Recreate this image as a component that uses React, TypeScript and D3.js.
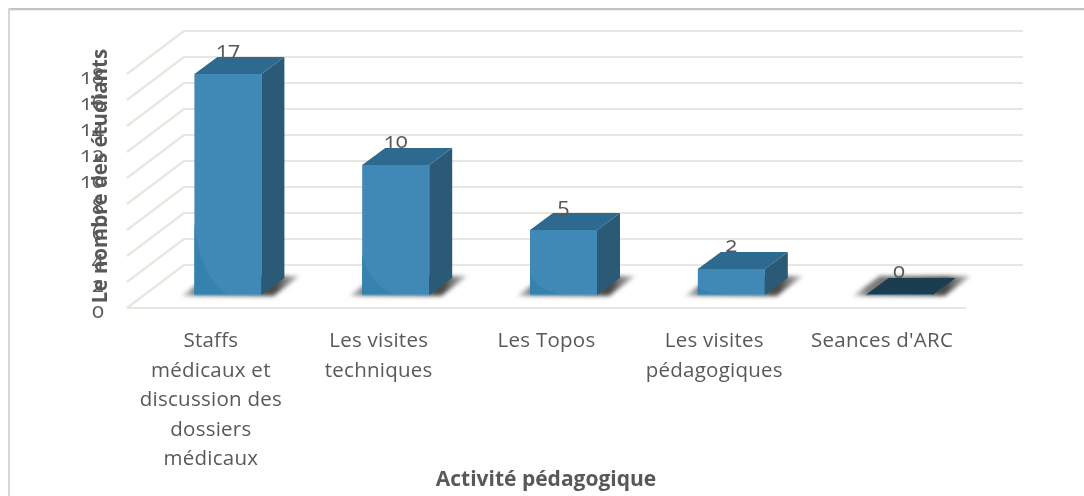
import React from 'react';
import * as d3 from 'd3';

const categories = ['Staffs', 'Les visites t', 'Les Topos', 'Les visites p', "Seances d'ARC"];
const categoryLines = [
  ['Staffs', 'médicaux et', 'discussion des', 'dossiers', 'médicaux'],
  ['Les visites', 'techniques'],
  ['Les Topos'],
  ['Les visites', 'pédagogiques'],
  ["Seances d'ARC"],
];
const values = [17, 10, 5, 2, 0];
const yTicks = [0, 2, 4, 6, 8, 10, 12, 14, 16, 18];

const FONT = '"Open Sans", "Noto Sans", sans-serif';
const TEXT = '#595959';
const GRID = '#e7e7df';

// projection of the fake 3d box
const wallDx = 57;
const wallDy = -43;
const barDx = 23;
const barDy = -17;
const floorGap = 13;

export default function App() {
  const x = d3.scaleBand<string>().domain(categories).range([127, 966]);
  const y = d3.scaleLinear().domain([0, 18]).range([308, 74]);
  const barW = 67;
  const shift = 17;

  return (
    <svg
      width={1084}
      height={496}
      style={{ position: 'absolute', left: 0, top: 0, background: '#fff' }}
    >
      <defs>
        <filter id="soft" x="-5%" y="-5%" width="110%" height="110%">
          <feGaussianBlur stdDeviation="0.45" />
        </filter>
        <filter id="shadow" x="-30%" y="-50%" width="160%" height="200%">
          <feGaussianBlur stdDeviation="2" />
        </filter>
        <linearGradient id="shadowFade" x1="0" y1="0" x2="1" y2="0">
          <stop offset="0" stopColor="#777" stopOpacity="0.35" />
          <stop offset="0.12" stopColor="#555" stopOpacity="0.75" />
          <stop offset="0.8" stopColor="#333" stopOpacity="0.9" />
          <stop offset="1" stopColor="#777" stopOpacity="0.45" />
        </linearGradient>
      </defs>
      <g filter="url(#soft)">
        {/* frame of the pasted picture */}
        <rect x={8} y={8} width={1076} height={2} fill="#c4c4c0" />
        <rect x={8} y={10} width={1076} height={1} fill="#ecece8" />
        <rect x={8} y={8} width={2} height={488} fill="#d6d6d2" />

        {/* walls */}
        {yTicks.map(t => (
          <g key={t} stroke={GRID} strokeWidth={2.2} fill="none">
            <line x1={127} y1={y(t)} x2={127 + wallDx} y2={y(t) + wallDy} />
            {t === 0 && <line x1={127} y1={y(t)} x2={966} y2={y(t)} />}
            <line x1={127 + wallDx} y1={y(t) + wallDy} x2={966 + wallDx} y2={y(t) + wallDy} />
          </g>
        ))}

        {/* bars */}
        {categories.map((c, i) => {
          const x0 = (x(c) as number) + x.bandwidth() / 2 + shift - barW / 2;
          const x1 = x0 + barW;
          const base = y(0) - floorGap;
          const top = y(values[i]) - floorGap;
          const h = base - top;
          return (
            <g key={c}>
              <polygon
                points={`${x0 - 13},${base + 1} ${x0 + 14},${base - 19} ${x1 + 38},${base - 19} ${x1 + 12},${base + 1}`}
                fill="url(#shadowFade)"
                filter="url(#shadow)"
              />
              {h > 0 && (
                <>
                  <rect x={x0} y={top} width={barW} height={h} fill="#3f88b5" />
                  <path
                    d={`M${x0},${base - h * 0.32} Q${x0 + 6},${base - h * 0.08} ${x0 + barW * 0.5},${base} L${x0},${base} Z`}
                    fill="#3682af"
                  />
                  <polygon
                    points={`${x1},${top} ${x1 + barDx},${top + barDy} ${x1 + barDx},${base + barDy} ${x1},${base}`}
                    fill="#2a5a76"
                  />
                </>
              )}
              <polygon
                points={`${x0},${top} ${x0 + barDx},${top + barDy} ${x1 + barDx},${top + barDy} ${x1},${top}`}
                fill={h > 0 ? '#2f6a8f' : '#1d3c50'}
              />
              <line x1={x0} y1={base} x2={x1} y2={base} stroke="#6fa6c8" strokeWidth={1} />
              <text
                x={(x0 + x1) / 2}
                y={top + barDy}
                textAnchor="middle"
                fontSize={22}
                fill={TEXT}
                style={{ fontFamily: FONT, fontVariantNumeric: 'oldstyle-nums' }}
              >
                {values[i]}
              </text>
            </g>
          );
        })}

        {/* y axis */}
        {yTicks.map(t => (
          <text
            key={t}
            x={104}
            y={y(t) + 10}
            textAnchor="end"
            fontSize={22}
            fill={TEXT}
            style={{ fontFamily: FONT, fontVariantNumeric: 'oldstyle-nums' }}
          >
            {t}
          </text>
        ))}
        <text
          transform="translate(107,176) rotate(-90)"
          textAnchor="middle"
          fontSize={20.5}
          fontWeight={700}
          fill={TEXT}
          style={{ fontFamily: FONT }}
        >
          Le nombre des étudiants
        </text>

        {/* x labels */}
        {categories.map((c, i) => (
          <text
            key={c}
            textAnchor="middle"
            fontSize={20.5}
            letterSpacing={0.25}
            fill={TEXT}
            style={{ fontFamily: FONT }}
          >
            {categoryLines[i].map((line, j) => (
              <tspan key={j} x={(x(c) as number) + x.bandwidth() / 2} y={347 + j * 29.5}>
                {line}
              </tspan>
            ))}
          </text>
        ))}
        <text
          x={546}
          y={486}
          textAnchor="middle"
          fontSize={21}
          fontWeight={700}
          fill={TEXT}
          style={{ fontFamily: FONT }}
        >
          Activité pédagogique
        </text>
      </g>
    </svg>
  );
}
